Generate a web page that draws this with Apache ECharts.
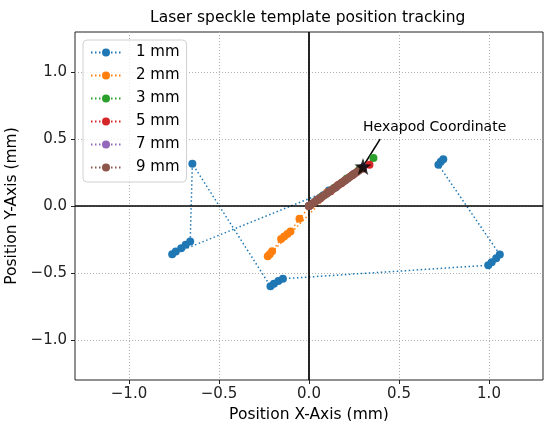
<!DOCTYPE html>
<html><head><meta charset="utf-8">
<script src="https://cdn.jsdelivr.net/npm/echarts@6/dist/echarts.min.js"></script>
<style>html,body{margin:0;padding:0;background:#fff}#c{width:544px;height:421px}</style>
</head><body><div id="c"></div>
<script>
const titleText = 'Laser speckle template position tracking';
const xName = 'Position X-Axis (mm)';
const yName = 'Position Y-Axis (mm)';
const seriesNames = ['1 mm', '2 mm', '3 mm', '5 mm', '7 mm', '9 mm'];
const seriesColors = ['#1f77b4', '#ff7f0e', '#2ca02c', '#d62728', '#9467bd', '#8c564b'];

const s1mm = [[0.00,0.00],[0.04,0.04],[0.08,0.08],[0.11,0.115],
  [-0.76,-0.36],[-0.74,-0.34],[-0.71,-0.315],[-0.685,-0.29],[-0.66,-0.265],
  [-0.648,0.316],
  [-0.214,-0.60],[-0.195,-0.58],[-0.17,-0.56],[-0.145,-0.543],
  [0.996,-0.443],[1.015,-0.42],[1.04,-0.39],[1.06,-0.363],
  [0.719,0.308],[0.732,0.33],[0.746,0.35]];
const s2mm = [[0.00,0.00],[0.05,0.05],[0.10,0.10],[0.16,0.155],
  [-0.229,-0.376],[-0.218,-0.36],[-0.205,-0.339],
  [-0.155,-0.246],[-0.138,-0.228],[-0.12,-0.21],[-0.103,-0.19],
  [-0.053,-0.095],[0.01,0.005]];
const s3mm = [[0.00,0.00],[0.07,0.07],[0.14,0.135],[0.21,0.205],[0.28,0.275],[0.358,0.358]];
const s5mm = [[0.00,0.00],[0.06,0.055],[0.12,0.11],[0.18,0.17],[0.24,0.23],[0.30,0.28],[0.336,0.308]];
const s7mm = [[0.00,0.00],[0.05,0.05],[0.10,0.095],[0.15,0.14],[0.20,0.19],[0.25,0.24],[0.30,0.29]];
const s9mm = [[0.000,0.000],[0.011,0.012],[0.023,0.022],[0.035,0.034],[0.047,0.045],[0.060,0.056],
  [0.071,0.068],[0.083,0.079],[0.096,0.090],[0.108,0.103],[0.119,0.113],[0.131,0.126],
  [0.144,0.137],[0.156,0.149],[0.167,0.160],[0.180,0.172],[0.192,0.183],[0.203,0.195],
  [0.216,0.206],[0.228,0.218],[0.240,0.229],[0.251,0.241],[0.264,0.252],[0.276,0.264],[0.289,0.277]];
const seriesData = [s1mm, s2mm, s3mm, s5mm, s7mm, s9mm];

const hexapodPoint = [0.30, 0.295];
const annotText = 'Hexapod Coordinate';
const annotTextPos = [0.30, 0.585];
const annotArrowStart = [0.395, 0.50];

const xTicks = [-1.0, -0.5, 0.0, 0.5, 1.0];
const yTicks = [-1.0, -0.5, 0.0, 0.5, 1.0];
const axisMin = -1.3, axisMax = 1.3;

const FONT = 'DejaVu Sans';
const fmt = v => (v < 0 ? '\u2212' : '') + Math.abs(v).toFixed(1);
const STAR = 'path://M0,-10L2.35,-3.24L9.51,-3.09L3.8,1.24L5.88,8.09L0,4.2L-5.88,8.09L-3.8,1.24L-9.51,-3.09L-2.35,-3.24Z';

const chart = echarts.init(document.getElementById('c'), null, {renderer: 'canvas'});

const dataSeries = seriesNames.map((n, i) => ({
  name: n, type: 'line', data: seriesData[i],
  symbol: 'circle', symbolSize: 8, showAllSymbol: true,
  itemStyle: {color: seriesColors[i]},
  lineStyle: {color: seriesColors[i], width: 1.5, type: [1.5, 2.5]},
  emphasis: {disabled: true}, z: 3 + i
}));

const option = {
  animation: false,
  title: {text: titleText, left: 150, top: 10, padding: 0,
    textStyle: {fontFamily: FONT, fontSize: 15.5, fontWeight: 'normal', color: '#000'}},
  legend: {
    data: seriesNames, orient: 'vertical', left: 83, top: 40,
    padding: [5, 7, 7, 7], itemWidth: 30, itemHeight: 10, itemGap: 8,
    backgroundColor: 'rgba(255,255,255,0.8)', borderColor: '#d0d0d0', borderWidth: 1, borderRadius: 4,
    textStyle: {fontFamily: FONT, fontSize: 15, color: '#000', padding: [0, 0, 0, 10]},
    selectedMode: false
  },
  grid: {left: 75, top: 32, right: 1, bottom: 41, show: true, borderColor: '#222', borderWidth: 1,
    backgroundColor: 'transparent', containLabel: false, outerBoundsMode: 'none'},
  xAxis: {
    type: 'value', min: axisMin, max: axisMax,
    axisLine: {show: false, onZero: false},
    axisTick: {show: true, customValues: xTicks, length: 4, lineStyle: {color: '#222'}},
    axisLabel: {customValues: xTicks, formatter: fmt, fontFamily: FONT, fontSize: 15, color: '#222', margin: 7},
    splitLine: {show: true, lineStyle: {color: '#b0b0b0', type: [1, 2], width: 1}},
    name: xName, nameLocation: 'middle', nameGap: 25,
    nameTextStyle: {fontFamily: FONT, fontSize: 15.5, color: '#000'}
  },
  yAxis: {
    type: 'value', min: axisMin, max: axisMax,
    axisLine: {show: false, onZero: false},
    axisTick: {show: true, customValues: yTicks, length: 4, lineStyle: {color: '#222'}},
    axisLabel: {customValues: yTicks, formatter: fmt, fontFamily: FONT, fontSize: 15, color: '#222', margin: 8},
    splitLine: {show: true, lineStyle: {color: '#b0b0b0', type: [1, 2], width: 1}},
    name: yName, nameLocation: 'middle', nameGap: 44,
    nameTextStyle: {fontFamily: FONT, fontSize: 15.5, color: '#000'}
  },
  series: [
    {name: 'zero', type: 'line', data: [], z: 2, silent: true,
      markLine: {silent: true, symbol: 'none', animation: false,
        label: {show: false},
        lineStyle: {color: '#000', width: 1.7, type: 'solid'},
        emphasis: {disabled: true},
        data: [{xAxis: 0}, {yAxis: 0}]}},
    ...dataSeries,
    {name: 'hexapod', type: 'scatter', data: [hexapodPoint], symbol: STAR, symbolSize: 17,
      itemStyle: {color: '#000'}, z: 20, silent: true,
      markLine: {silent: true, symbol: ['none', 'none'], animation: false,
        label: {show: false},
        lineStyle: {color: '#000', width: 1.5, type: 'solid'},
        emphasis: {disabled: true},
        data: [[{coord: annotArrowStart}, {coord: hexapodPoint}]]},
      markPoint: {silent: true, symbol: 'circle', symbolSize: 0, animation: false,
        label: {show: true, position: 'right', distance: 0, formatter: annotText,
          fontFamily: FONT, fontSize: 14, color: '#000'},
        data: [{coord: annotTextPos}]}
    }
  ]
};
chart.setOption(option);
</script></body></html>
